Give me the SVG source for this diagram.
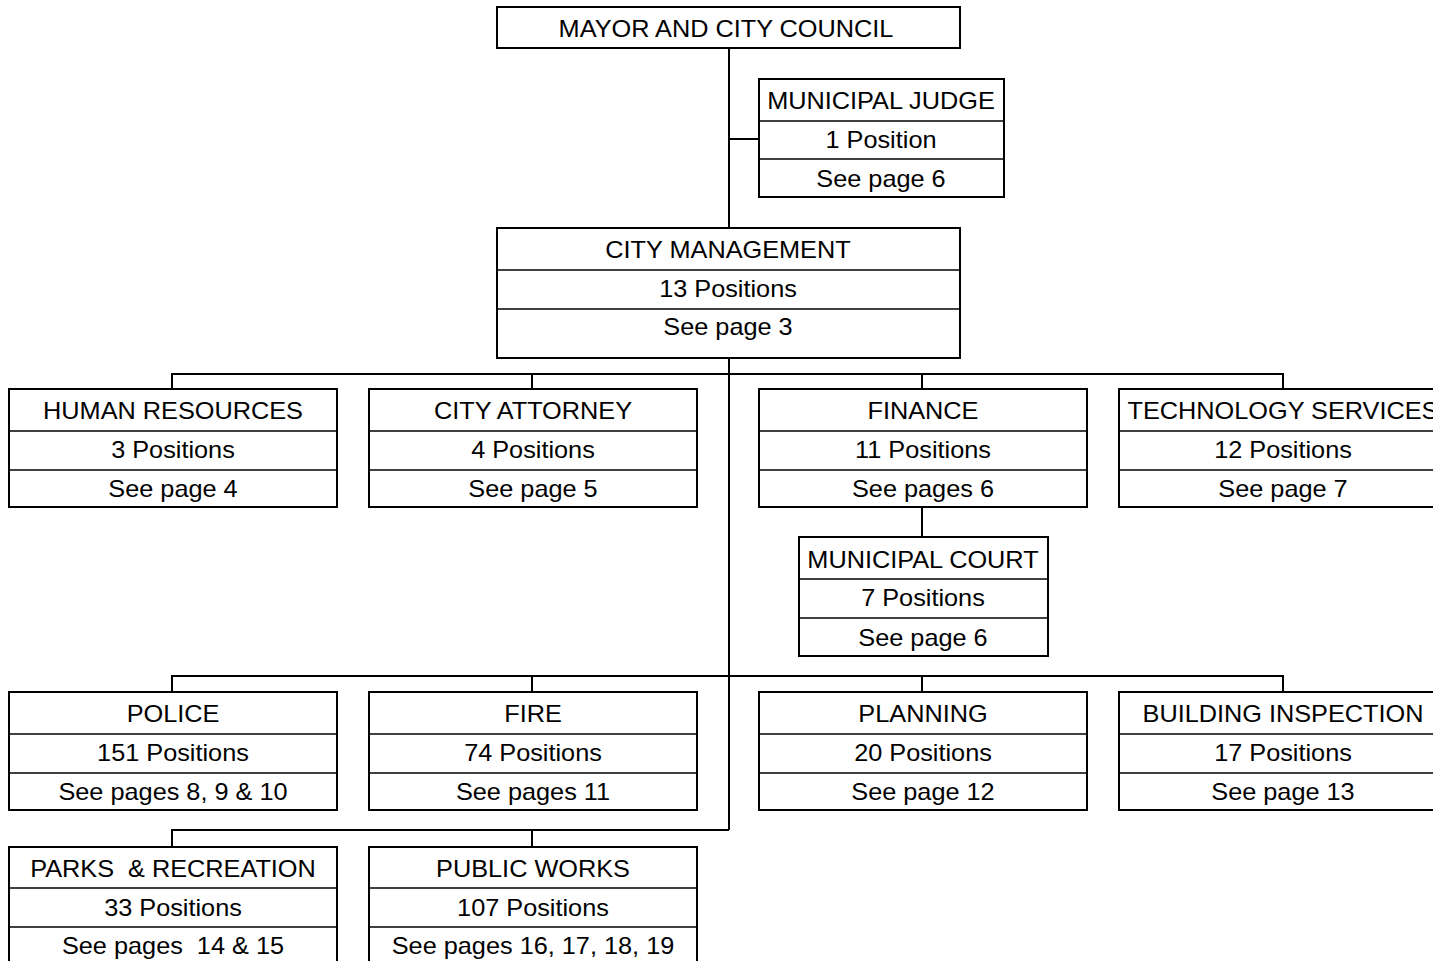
<svg xmlns="http://www.w3.org/2000/svg" width="1433" height="961" viewBox="0 0 1433 961">
<style>
.box{fill:#fff;stroke:#000;stroke-width:2}
.div{stroke:#000;stroke-width:1.3}
.ln{stroke:#000;stroke-width:2;fill:none}
text{font-family:"Liberation Sans",Arial,sans-serif;font-size:23px;fill:#000;text-anchor:middle;transform-box:fill-box;transform-origin:center;transform:scaleX(1.1)}
</style>
<rect width="1433" height="961" fill="#fff"/>
<g id="connectors">
<path class="ln" d="M729 48V228M729 139H759M729 358V830"/>
<path class="ln" d="M172 389V374H1283V389M532 374V389M922 374V389"/>
<path class="ln" d="M922 507V537"/>
<path class="ln" d="M172 692V676H1283V692M532 676V692M922 676V692"/>
<path class="ln" d="M172 847V830H729M532 830V847"/>
</g>
<g id="mayor"><rect class="box" x="497" y="7" width="463" height="41"/><text x="726" y="37">MAYOR AND CITY COUNCIL</text></g>
<g id="judge"><rect class="box" x="759" y="79" width="245" height="118"/><line class="div" x1="759" y1="121" x2="1004" y2="121"/><line class="div" x1="759" y1="159" x2="1004" y2="159"/><text x="881" y="109">MUNICIPAL JUDGE</text><text x="881" y="148">1 Position</text><text x="881" y="187">See page 6</text></g>
<g id="citymgmt"><rect class="box" x="497" y="228" width="463" height="130"/><line class="div" x1="497" y1="270" x2="960" y2="270"/><line class="div" x1="497" y1="309" x2="960" y2="309"/><text x="728" y="258">CITY MANAGEMENT</text><text x="728" y="297">13 Positions</text><text x="728" y="335">See page 3</text></g>
<g id="hr"><rect class="box" x="9" y="389" width="328" height="118"/><line class="div" x1="9" y1="431" x2="337" y2="431"/><line class="div" x1="9" y1="470" x2="337" y2="470"/><text x="173" y="419">HUMAN RESOURCES</text><text x="173" y="458">3 Positions</text><text x="173" y="497">See page 4</text></g>
<g id="attorney"><rect class="box" x="369" y="389" width="328" height="118"/><line class="div" x1="369" y1="431" x2="697" y2="431"/><line class="div" x1="369" y1="470" x2="697" y2="470"/><text x="533" y="419">CITY ATTORNEY</text><text x="533" y="458">4 Positions</text><text x="533" y="497">See page 5</text></g>
<g id="finance"><rect class="box" x="759" y="389" width="328" height="118"/><line class="div" x1="759" y1="431" x2="1087" y2="431"/><line class="div" x1="759" y1="470" x2="1087" y2="470"/><text x="923" y="419">FINANCE</text><text x="923" y="458">11 Positions</text><text x="923" y="497">See pages 6</text></g>
<g id="tech"><rect class="box" x="1119" y="389" width="328" height="118"/><line class="div" x1="1119" y1="431" x2="1447" y2="431"/><line class="div" x1="1119" y1="470" x2="1447" y2="470"/><text x="1283" y="419">TECHNOLOGY SERVICES</text><text x="1283" y="458">12 Positions</text><text x="1283" y="497">See page 7</text></g>
<g id="court"><rect class="box" x="799" y="537" width="249" height="119"/><line class="div" x1="799" y1="579" x2="1048" y2="579"/><line class="div" x1="799" y1="618" x2="1048" y2="618"/><text x="923" y="568">MUNICIPAL COURT</text><text x="923" y="606">7 Positions</text><text x="923" y="646">See page 6</text></g>
<g id="police"><rect class="box" x="9" y="692" width="328" height="118"/><line class="div" x1="9" y1="734" x2="337" y2="734"/><line class="div" x1="9" y1="773" x2="337" y2="773"/><text x="173" y="722">POLICE</text><text x="173" y="761">151 Positions</text><text x="173" y="800">See pages 8, 9 &amp; 10</text></g>
<g id="fire"><rect class="box" x="369" y="692" width="328" height="118"/><line class="div" x1="369" y1="734" x2="697" y2="734"/><line class="div" x1="369" y1="773" x2="697" y2="773"/><text x="533" y="722">FIRE</text><text x="533" y="761">74 Positions</text><text x="533" y="800">See pages 11</text></g>
<g id="planning"><rect class="box" x="759" y="692" width="328" height="118"/><line class="div" x1="759" y1="734" x2="1087" y2="734"/><line class="div" x1="759" y1="773" x2="1087" y2="773"/><text x="923" y="722">PLANNING</text><text x="923" y="761">20 Positions</text><text x="923" y="800">See page 12</text></g>
<g id="building"><rect class="box" x="1119" y="692" width="328" height="118"/><line class="div" x1="1119" y1="734" x2="1447" y2="734"/><line class="div" x1="1119" y1="773" x2="1447" y2="773"/><text x="1283" y="722">BUILDING INSPECTION</text><text x="1283" y="761">17 Positions</text><text x="1283" y="800">See page 13</text></g>
<g id="parks"><rect class="box" x="9" y="847" width="328" height="130"/><line class="div" x1="9" y1="888" x2="337" y2="888"/><line class="div" x1="9" y1="927" x2="337" y2="927"/><text x="173" y="877" xml:space="preserve">PARKS  &amp; RECREATION</text><text x="173" y="916">33 Positions</text><text x="173" y="954" xml:space="preserve">See pages  14 &amp; 15</text></g>
<g id="publicworks"><rect class="box" x="369" y="847" width="328" height="130"/><line class="div" x1="369" y1="888" x2="697" y2="888"/><line class="div" x1="369" y1="927" x2="697" y2="927"/><text x="533" y="877">PUBLIC WORKS</text><text x="533" y="916">107 Positions</text><text x="533" y="954">See pages 16, 17, 18, 19</text></g>
</svg>
